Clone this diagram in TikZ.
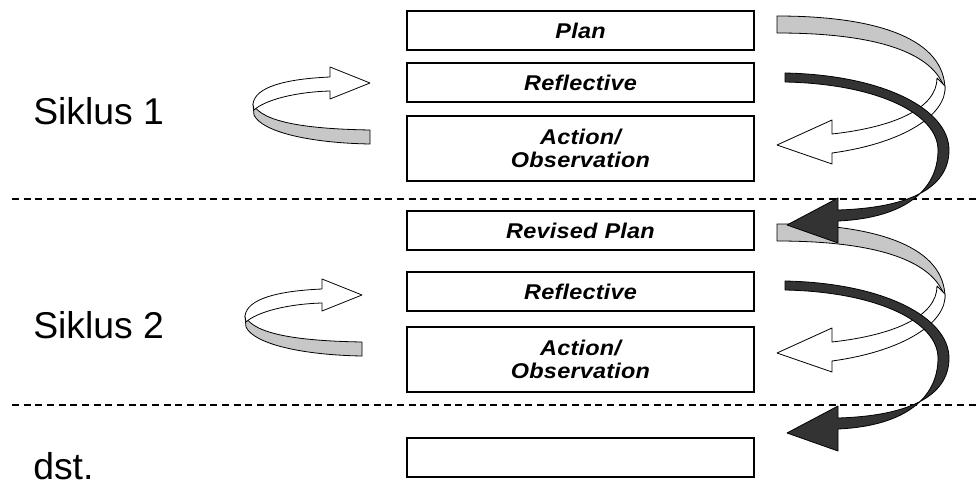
\documentclass[tikz,border=0pt]{standalone}
\usepackage{fontspec}
\setmainfont{Liberation Sans}
\newfontfamily\boxfont[FakeStretch=1.1, LetterSpace=1]{Liberation Sans}
\usetikzlibrary{shapes,arrows,calc}
\tikzstyle{block} = [draw, rectangle, line width=1.3pt, text centered, text width=260pt, inner xsep=0pt, inner ysep=0pt, minimum height=29.25pt, font=\boxfont\fontsize{16}{17.5}\selectfont\bfseries\itshape]
\tikzstyle{tallblock} = [block, minimum height=48.75pt]
\tikzstyle{phase} = [anchor=base west, inner sep=0pt, font=\fontsize{28}{30}\selectfont]
\tikzstyle{sep} = [draw, line width=1.3pt, dash pattern=on 5.25pt off 3.5pt]
\tikzstyle{ribbon} = [draw=black, line width=0.6pt, line join=round]

\begin{document}
\begin{tikzpicture}[x=0.75pt, y=-0.75pt]
        \useasboundingbox (0,0) rectangle (978,485);
        \node[block] (plan) at (580.5,30.5) {Plan};
        \node[block, below of=plan, node distance=39pt] (refla) {Reflective};
        \node[tallblock, below of=refla, node distance=49.5pt] (acta) {Action/\\Observation};
        \node[block, below of=acta, node distance=61.5pt] (revised) {Revised Plan};
        \node[block, below of=revised, node distance=45.75pt] (reflb) {Reflective};
        \node[tallblock, below of=reflb, node distance=51pt] (actb) {Action/\\Observation};
        \node[block, below of=actb, node distance=73.5pt] (next) {};
        \node[phase] (sika) at (33,124) {Siklus 1};
        \node[phase] (sikb) at (33,338) {Siklus 2};
        \node[phase] (dst) at (33,479) {dst.};
        \coordinate (sepa) at (12,199);
        \coordinate (sepb) at (12,405);
        \path[sep] (sepa) -- (sepa -| 978,0);
        \path[sep] (sepb) -- (sepb -| 978,0);
        \foreach \dx/\dy in {0/0,-8/212} {
            \begin{scope}[shift={(\dx,\dy)}]
                \filldraw[ribbon, fill=black!22] (370,130) .. controls (310,129) and (262,123) .. (253,104) -- (254,115) .. controls (262,132) and (310,143) .. (370,144) -- cycle;
                \filldraw[ribbon, fill=white] (254,110) .. controls (265,100) and (295,92) .. (330,91) -- (330,99) -- (370,83) -- (330,67) -- (330,77) .. controls (285,79) and (255,87) .. (253,104) -- cycle;
            \end{scope}
        }
        \foreach \dy in {0,208} {
            \begin{scope}[shift={(0,\dy)}]
                \filldraw[ribbon, fill=black!22] (777,16) .. controls (880,16) and (945,40) .. (945,90) .. controls (936,58) and (890,33) .. (777,33) -- cycle;
                \filldraw[ribbon, fill=white] (945,86) .. controls (947,114) and (905,143) .. (832,153) -- (832,164) -- (777,145) -- (832,120) -- (832,134) .. controls (895,127) and (937,108) .. (937,78) -- cycle;
            \end{scope}
        }
        \foreach \dy in {0,208} {
            \begin{scope}[shift={(0,\dy)}]
                \filldraw[ribbon, fill=black!80] (785,73) .. controls (885,75) and (949,110) .. (949,150) .. controls (949,190) and (905,208) .. (838,210) -- (838,198) -- (787,225) -- (838,243) -- (838,221) .. controls (905,218) and (938,190) .. (938,150) .. controls (938,115) and (880,84) .. (785,82) -- cycle;
            \end{scope}
        }
    \end{tikzpicture}
\end{document}
